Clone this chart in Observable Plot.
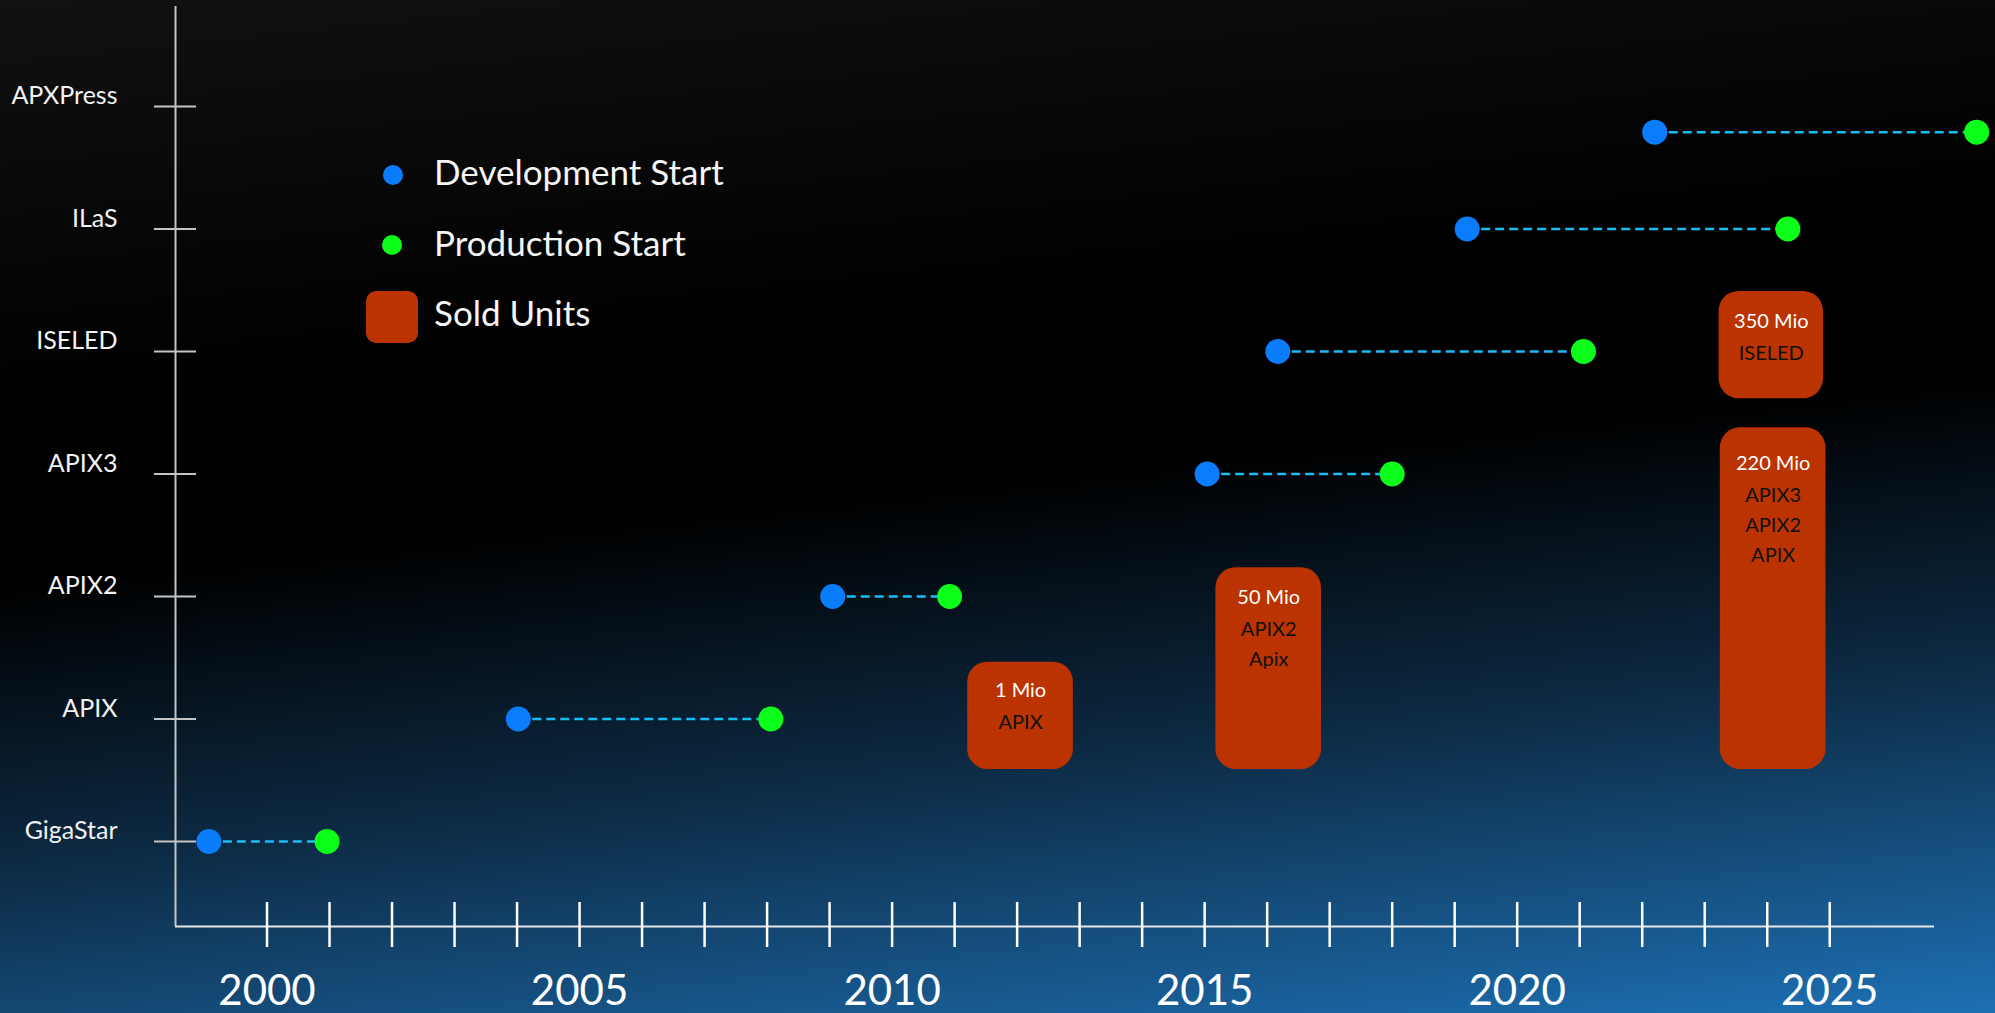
<!DOCTYPE html>
<html>
<head>
<meta charset="utf-8">
<script src="https://cdn.jsdelivr.net/npm/d3@7"></script>
<script src="https://cdn.jsdelivr.net/npm/@observablehq/plot@0.6"></script>
<style>
  html, body { margin: 0; padding: 0; }
  body {
    width: 1995px; height: 1013px; overflow: hidden; position: relative;
    background: linear-gradient(174deg, #111111 0%, #000000 33%, #000000 48%, #0c2840 70%, #1d70b4 100%);
    font-family: Lato, "Noto Sans", sans-serif;
  }
  #chart { position: absolute; left: 0; top: 0; }
  .lg { position: absolute; }
  .lg-dot { width: 20px; height: 20px; border-radius: 50%; }
  .lg-box { width: 52px; height: 52px; border-radius: 10px; background: #bb3300; }
  .lg-text { color: #f5f5f5; font-size: 35px; line-height: 42px; white-space: nowrap; left: 434px; }
</style>
</head>
<body>
<div id="chart"></div>
<div class="lg lg-dot" id="lgDev" style="left:383px; top:165px;"></div>
<div class="lg lg-text" style="top:150px;">Development Start</div>
<div class="lg lg-dot" id="lgProd" style="left:382px; top:235px;"></div>
<div class="lg lg-text" style="top:221px;">Production Start</div>
<div class="lg lg-box" style="left:366px; top:291px;"></div>
<div class="lg lg-text" style="top:291px;">Sold Units</div>
<script>
// ---- data ----
const products   = ["GigaStar", "APIX", "APIX2", "APIX3", "ISELED", "ILaS", "APXPress"];
const dotRow     = [0, 1, 2, 3, 4, 5, 5.79];
const devStart   = [1999.07, 2004.02, 2009.05, 2015.04, 2016.17, 2019.20, 2022.20];
const prodStart  = [2000.96, 2008.06, 2010.92, 2018.00, 2021.06, 2024.33, 2027.35];

const soldLabel    = ["1 Mio", "50 Mio", "220 Mio", "350 Mio"];
const soldProducts = [["APIX"], ["APIX2", "Apix"], ["APIX3", "APIX2", "APIX"], ["ISELED"]];
const soldX1       = [2011.21, 2015.18, 2023.25, 2023.23];
const soldX2       = [2012.90, 2016.87, 2024.94, 2024.90];
const soldY1       = [0.588, 0.588, 0.588, 3.614];
const soldY2       = [1.464, 2.234, 3.377, 4.490];
const soldLabelY   = [1.232, 1.992, 3.086, 4.245];

const yearTicks  = [2000, 2001, 2002, 2003, 2004, 2005, 2006, 2007, 2008, 2009, 2010, 2011, 2012,
                    2013, 2014, 2015, 2016, 2017, 2018, 2019, 2020, 2021, 2022, 2023, 2024, 2025];
const yearLabels = [2000, 2005, 2010, 2015, 2020, 2025];
const rowTicks   = [0, 1, 2, 3, 4, 5, 6];

// ---- colours ----
const devColor = "#0a7dfc", prodColor = "#0cff1a", linkColor = "#1abcf5", soldColor = "#bb3300";
document.getElementById("lgDev").style.background = devColor;
document.getElementById("lgProd").style.background = prodColor;

const rows = products.map((p, i) => ({product: p, row: dotRow[i], dev: devStart[i], prod: prodStart[i]}));
const sold = soldLabel.map((l, i) => ({
  label: l, names: soldProducts[i].join("\n"),
  x1: soldX1[i], x2: soldX2[i], y1: soldY1[i], y2: soldY2[i], ly: soldLabelY[i],
  xc: (soldX1[i] + soldX2[i]) / 2
}));

const xDomain = [1998.536, 2026.676];
const yDomain = [-0.694, 6.816];

const chart = Plot.plot({
  width: 1995, height: 1013,
  marginLeft: 175, marginRight: 61, marginTop: 6, marginBottom: 87,
  style: {background: "transparent", fontFamily: "Lato, 'Noto Sans', sans-serif", overflow: "visible"},
  x: {domain: xDomain, axis: null, label: null},
  y: {domain: yDomain, axis: null, label: null},
  marks: [
    Plot.ruleX([xDomain[0]], {stroke: "#c4c4c4", strokeWidth: 2}),
    Plot.ruleY([yDomain[0]], {stroke: "#e8e8e8", strokeWidth: 2}),
    Plot.axisX({ticks: yearTicks, anchor: "bottom", tickSize: 45, dy: -24, tickFormat: () => "",
                stroke: "#ffffff", strokeWidth: 2.5, strokeOpacity: 1, label: null}),
    Plot.axisX({ticks: yearLabels, anchor: "bottom", tickSize: 0, tickPadding: 49, fontSize: 42,
                fill: "#ffffff", tickFormat: d => String(d), label: null}),
    Plot.axisY({ticks: rowTicks, anchor: "left", tickSize: 42, dx: 21, tickFormat: () => "",
                stroke: "#c4c4c4", strokeWidth: 2, strokeOpacity: 1, label: null}),
    Plot.axisY({ticks: rowTicks, anchor: "left", tickSize: 0, tickPadding: 58, dy: -10, fontSize: 25,
                fill: "#f2f2f2", tickFormat: i => products[i], label: null}),
    Plot.rect(sold, {x1: "x1", x2: "x2", y1: "y1", y2: "y2", fill: soldColor, rx: 20}),
    Plot.text(sold, {x: "xc", y: "ly", text: "label", fill: "#ffffff", fontSize: 20, lineAnchor: "middle"}),
    Plot.text(sold, {x: "xc", y: "ly", text: "names", fill: "#111111", fontSize: 20, lineAnchor: "top",
                     lineHeight: 1.5, dy: 17}),
    Plot.link(rows, {x1: "dev", x2: "prod", y1: "row", y2: "row", stroke: linkColor, strokeWidth: 2.5,
                     strokeDasharray: "9,5"}),
    Plot.dot(rows, {x: "dev", y: "row", r: 12.5, fill: devColor}),
    Plot.dot(rows, {x: "prod", y: "row", r: 12.5, fill: prodColor})
  ]
});
document.getElementById("chart").appendChild(chart);
</script>
</body>
</html>
